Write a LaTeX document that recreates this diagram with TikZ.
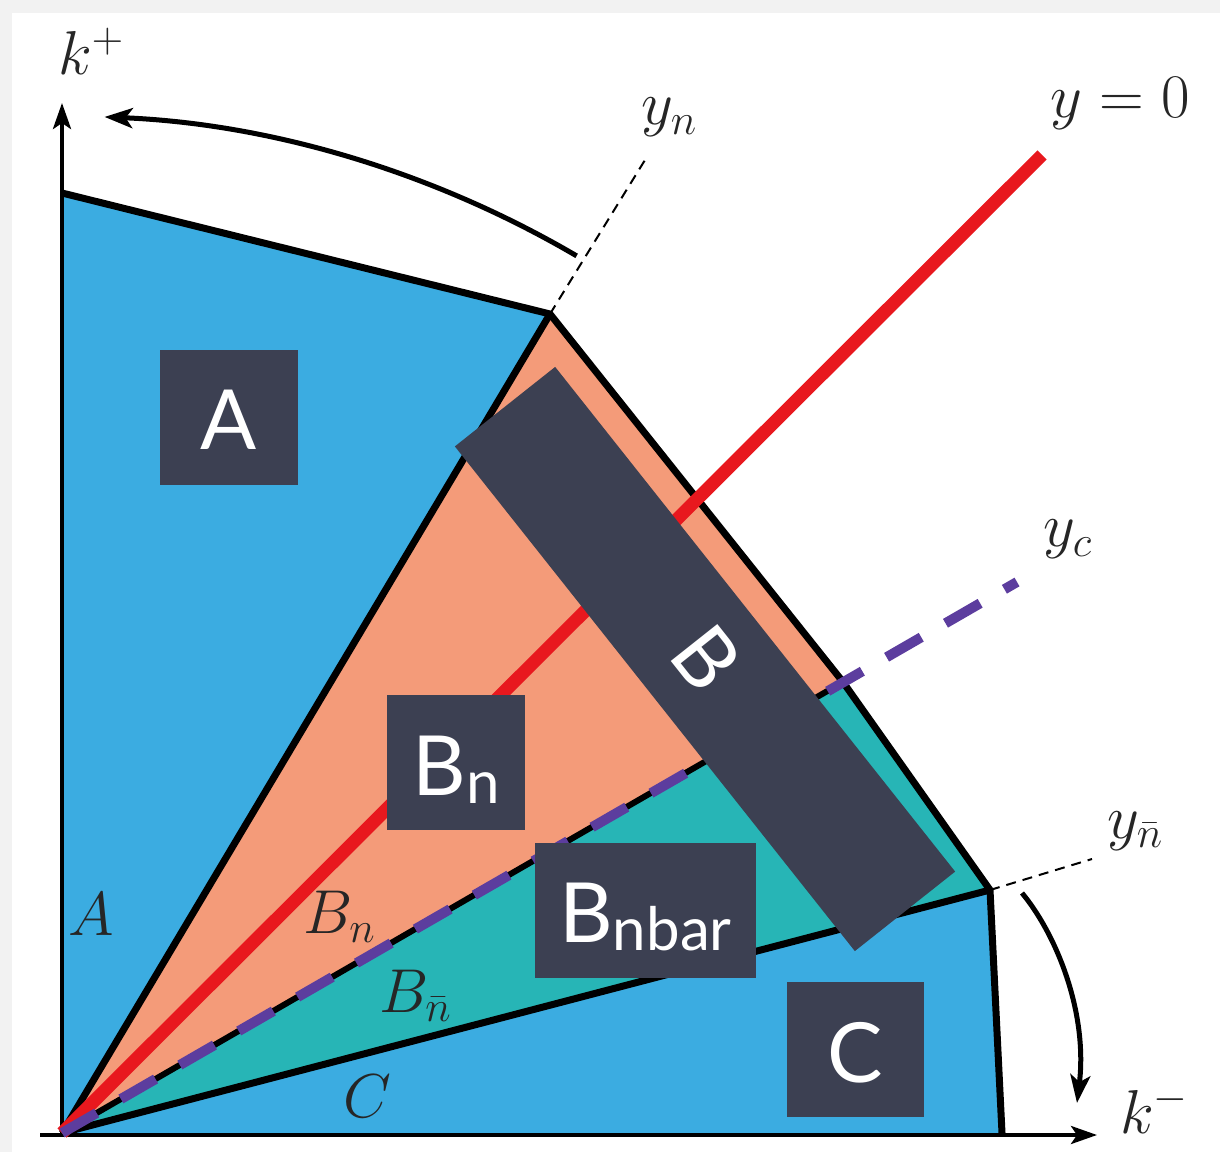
\RequirePackage{fix-cm}
\documentclass[tikz,border=0pt]{standalone}
\usepackage{fontspec}
\newfontfamily\boxfont{Lato}
\usetikzlibrary{arrows.meta}
\definecolor{regblue}{HTML}{3BACE1}
\definecolor{regorange}{HTML}{F49B79}
\definecolor{regteal}{HTML}{27B5B6}
\definecolor{boxdark}{HTML}{3C4052}
\definecolor{linered}{HTML}{E8181E}
\definecolor{linepurple}{HTML}{5C3D9E}
\definecolor{shadowgray}{HTML}{F2F2F2}
\tikzset{
  edge/.style={line width=7, black, line join=miter},
  axisline/.style={line width=4, black, -{Stealth[length=26,width=18,inset=6]}},
  thindash/.style={line width=2, black, dash pattern=on 10 off 7},
  turnarrow/.style={line width=5, black, -{Stealth[length=28,width=20,inset=7]}},
  darkbox/.style={fill=boxdark, text=white, inner sep=0, text height=100, text depth=35,
    font=\boxfont\fontsize{83}{83}\selectfont},
  mathlbl/.style={inner sep=0, anchor=base west, text=black!85, font=\fontsize{62}{62}\selectfont},
}
\newcommand{\subtext}[1]{\raisebox{-8pt}{\fontsize{60}{60}\selectfont #1}}
\begin{document}
\begin{tikzpicture}[x=1pt,y=1pt]
\useasboundingbox (0,0) rectangle (1220,1152);
\fill[shadowgray] (0,0) rectangle (1220,1152);
\fill[white] (12,0) rectangle (1220,1139);

\coordinate (O) at (62,19);
\coordinate (Atop) at (62,959);
\coordinate (Pn) at (550,838);
\coordinate (Pc) at (843,470);
\coordinate (Pnb) at (990,262);
\coordinate (Cbot) at (1002,19);
\coordinate (ycend) at (1017,570);
\coordinate (redend) at (1042,997);
\coordinate (ynend) at (645,992);
\coordinate (ynbend) at (1092,293);
\coordinate (kplus) at (62,1049);
\coordinate (kstart) at (40,17);
\coordinate (kminus) at (1097,17);

% regions
\fill[regblue] (O) -- (Atop) -- (Pn) -- (Pc) -- (Pnb) -- (Cbot) -- cycle;
\fill[regorange] (O) -- (Pn) -- (Pc) -- cycle;
\fill[regteal] (O) -- (Pc) -- (Pnb) -- cycle;

% outlines
\draw[edge] (Atop) -- (Pn) -- (Pc) -- (Pnb) -- (Cbot);
\draw[edge] (O) -- (Pn);
\draw[edge] (O) -- (Pnb);
\draw[line width=6, black] (O) -- (Pc);

% axes
\draw[axisline] (O) -- (kplus);
\draw[axisline] (kstart) -- (kminus);

% thin dashed rays
\draw[thindash] (Pn) -- (ynend);
\draw[thindash] (Pnb) -- (ynbend);

% red and purple rays
\draw[line width=13, linered] (O) -- (redend);
\draw[line width=10, linepurple, dash pattern=on 40 off 28] (O) -- (ycend);

% turning arrows
\coordinate (arcAs) at ([shift={(59.6:1017)}]O);
\draw[turnarrow] (arcAs) arc[start angle=59.6, end angle=87.6, radius=1017];
\coordinate (arcBs) at (1022,259);
\coordinate (arcBe) at (1077,49);
\draw[turnarrow] (arcBs) .. controls (1056,218) and (1088,140) .. (arcBe);

% boxes
\node[darkbox, minimum width=138, minimum height=135] (boxA) at (229,734.5) {A};
\node[darkbox, minimum width=138, minimum height=135] (boxBn) at (456,389.5) {B\subtext{n}};
\node[darkbox, minimum width=221, minimum height=134] (boxBnb) at (645.5,242) {B\subtext{nbar}};
\node[darkbox, minimum width=137, minimum height=135] (boxC) at (855.5,102.5) {C};
\node[darkbox, rotate=-51.6, minimum width=644, minimum height=128, text height=92, text depth=36] (boxB) at (705,493) {B};

% math labels
\node[mathlbl] (lkp) at (58,1077) {$k^{+}$};
\node[mathlbl] (lkm) at (1120,19) {$k^{-}$};
\node[mathlbl] (lyn) at (641,1027) {$y_n$};
\node[mathlbl] (ly0) at (1050,1034) {$y=0$};
\node[mathlbl] (lyc) at (1043,605) {$y_c$};
\node[mathlbl] (lynb) at (1107,314) {$y_{\bar n}$};
\node[mathlbl] (lA) at (68,217) {$A$};
\node[mathlbl] (lBn) at (303,219) {$B_n$};
\node[mathlbl] (lBnb) at (379,140) {$B_{\bar n}$};
\node[mathlbl] (lC) at (343,35) {$C$};
\end{tikzpicture}
\end{document}
